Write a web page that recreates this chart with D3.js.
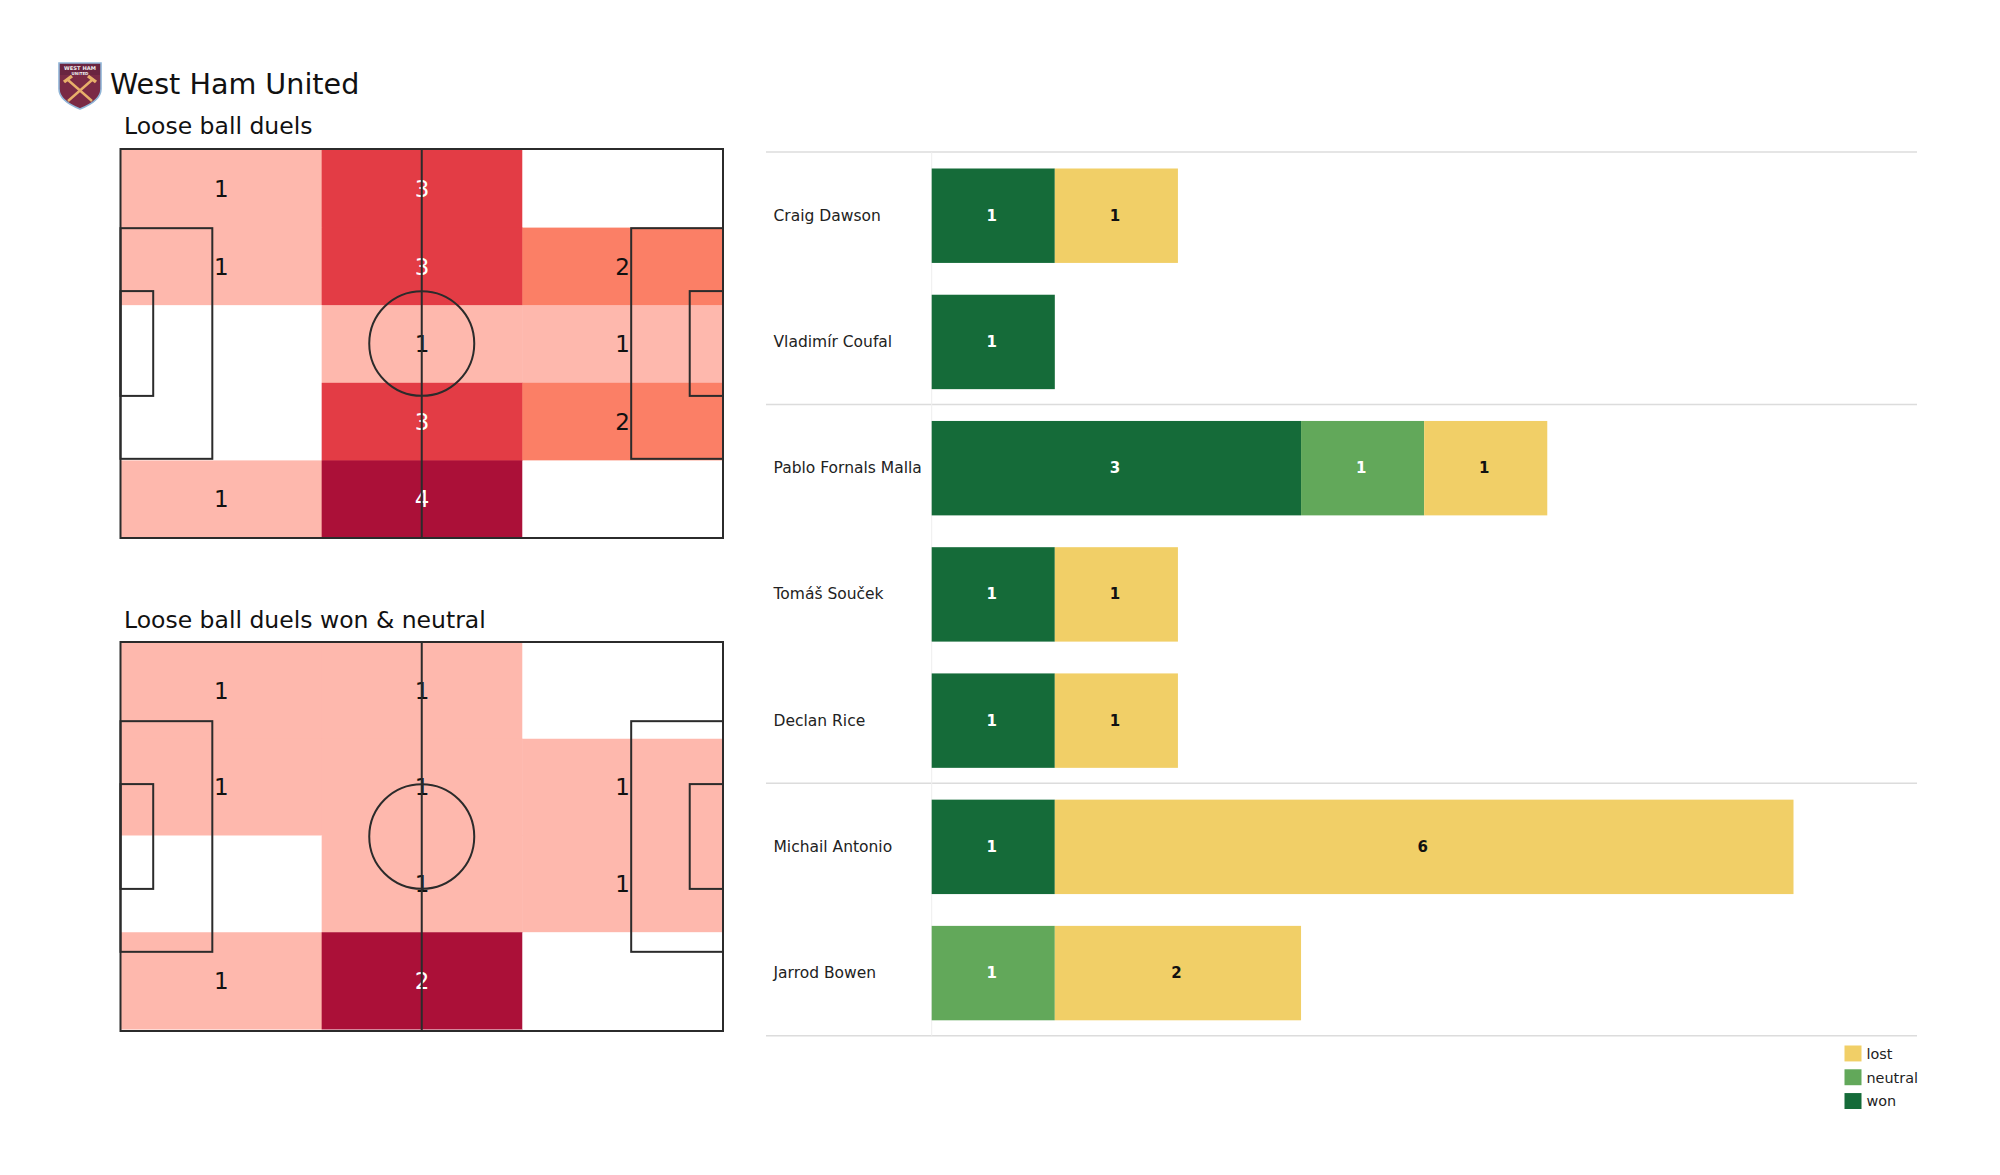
<!DOCTYPE html>
<html><head><meta charset="utf-8">
<script src="https://cdn.jsdelivr.net/npm/d3@7/dist/d3.min.js"></script>
<style>html,body{margin:0;background:#fff}svg{display:block}text{font-family:"DejaVu Sans",sans-serif}</style>
</head><body><svg id="c" width="2000" height="1175"></svg>
<script>
const players=["Craig Dawson","Vladimír Coufal","Pablo Fornals Malla","Tomáš Souček","Declan Rice","Michail Antonio","Jarrod Bowen"];
const won=[1,1,3,1,1,1,0];
const neutral=[0,0,1,0,0,0,1];
const lost=[1,0,1,1,1,6,2];
const groupSizes=[2,3,2];
const outcomes=["won","neutral","lost"];
const outcomeColors=["#156b39","#62a85a","#f1cf67"];
const legendOrder=["lost","neutral","won"];
const duelsGrid=[[1,3,0],[1,3,2],[0,1,1],[0,3,2],[1,4,0]];
const wonGrid=[[1,1,0],[1,1,1],[0,1,1],[1,2,0]];
const duelsPalette=["#ffffff","#feb8ad","#fb7f66","#e33c45","#ab1038"];
const wonPalette=["#ffffff","#feb8ad","#ab1038"];
const svg=d3.select("#c");
const ink="#111";

// header
const logo=svg.append("g").attr("transform","translate(58,61)");
logo.append("path").attr("d","M1 2 H43 V28 C43 38 32 44 22 48 C12 44 1 38 1 28 Z").attr("fill","#7a2a45").attr("stroke","#8fb4d6").attr("stroke-width",1.6);
logo.append("rect").attr("x",2).attr("y",3).attr("width",40).attr("height",11).attr("fill","#6a2440");
logo.append("text").attr("x",22).attr("y",9).attr("text-anchor","middle").attr("font-size",5.2).attr("font-weight","bold").attr("fill","#eee").text("WEST HAM");
logo.append("text").attr("x",22).attr("y",14).attr("text-anchor","middle").attr("font-size",4).attr("font-weight","bold").attr("fill","#eee").text("UNITED");
logo.append("path").attr("d","M10 19 L34 40 M34 19 L10 40").attr("stroke","#e8b06a").attr("stroke-width",2.4).attr("fill","none");
logo.append("path").attr("d","M6 21 L14 15 M38 21 L30 15").attr("stroke","#e8b06a").attr("stroke-width",3.4).attr("fill","none");
svg.append("text").attr("x",110).attr("y",94).attr("font-size",28.6).attr("fill",ink).text("West Ham United");

function pitch(title,titleY,top,bottom,cellTop,cellBottom,grid,palette){
  svg.append("text").attr("x",124).attr("y",titleY).attr("font-size",23.5).attr("fill",ink).text(title);
  const g=svg.append("g");
  const x=d3.scaleLinear().domain([0,105]).range([120.5,723]);
  const y=d3.scaleLinear().domain([0,68]).range([top,bottom]);
  const cx=d3.scaleBand().domain(d3.range(3)).range([121,723]);
  const cy=d3.scaleBand().domain(d3.range(grid.length)).range([cellTop,cellBottom]);
  const color=d3.scaleOrdinal().domain(d3.range(palette.length)).range(palette);
  const cells=grid.flatMap((r,i)=>r.map((v,j)=>({i,j,v})));
  g.selectAll("rect").data(cells).join("rect")
    .attr("x",d=>cx(d.j)).attr("y",d=>cy(d.i)).attr("width",cx.bandwidth()+.5).attr("height",cy.bandwidth()+.5)
    .attr("fill",d=>color(d.v));
  g.selectAll("text").data(cells.filter(d=>d.v>0)).join("text")
    .attr("x",d=>cx(d.j)+cx.bandwidth()/2).attr("y",d=>cy(d.i)+cy.bandwidth()/2)
    .attr("dy","0.36em").attr("text-anchor","middle").attr("font-size",23)
    .attr("fill",d=>d.v>=palette.length-2&&palette.length>3||d.v===palette.length-1?"#fff":ink).text(d=>d.v);
  const L=g.append("g").attr("fill","none").attr("stroke","#2b2b2b").attr("stroke-width",2);
  const box=(x0,x1,y0,y1)=>L.append("rect").attr("x",x(x0)).attr("y",y(y0)).attr("width",x(x1)-x(x0)).attr("height",y(y1)-y(y0));
  box(0,105,0,68);
  box(0,16,13.84,54.16); box(89,105,13.84,54.16);
  box(0,5.7,24.84,43.16); box(99.2,105,24.84,43.16);
  L.append("line").attr("x1",x(52.5)).attr("x2",x(52.5)).attr("y1",y(0)).attr("y2",y(68));
  L.append("ellipse").attr("cx",x(52.5)).attr("cy",y(34)).attr("rx",x(9.15)-x(0)).attr("ry",y(9.15)-y(0));
}
pitch("Loose ball duels",134,149,538,150,538,duelsGrid,duelsPalette);
pitch("Loose ball duels won & neutral",628,642,1031,642,1029,wonGrid,wonPalette);

// bars
const rows=players.map((p,i)=>({player:p,won:won[i],neutral:neutral[i],lost:lost[i]}));
const bx=d3.scaleLinear().domain([0,7]).range([931.7,1793.5]);
const by=d3.scaleBand().domain(players).range([168.5,1020.3]).paddingInner(0.252);
const step=by.step();
const color=d3.scaleOrdinal().domain(outcomes).range(outcomeColors);
const sepY=i=>by(players[i])-(step-by.bandwidth())/2;
let acc=0;const seps=[0];groupSizes.forEach(n=>{acc+=n;seps.push(acc)});
const yAt=k=>k<players.length?sepY(k)-0.5:sepY(players.length-1)+step-0.5;
svg.selectAll("line.sep").data(seps).join("line").attr("class","sep")
  .attr("x1",766).attr("x2",1917).attr("y1",yAt).attr("y2",yAt).attr("stroke","#dcdcdc").attr("stroke-width",1.5);
svg.append("line").attr("x1",931.7).attr("x2",931.7).attr("y1",yAt(0)).attr("y2",yAt(players.length)).attr("stroke","#eeeeee").attr("stroke-width",1);
const stack=d3.stack().keys(outcomes)(rows);
const layer=svg.selectAll("g.layer").data(stack).join("g").attr("class","layer");
const segs=layer.selectAll("g").data(s=>s.map(d=>({k:s.key,a:d[0],b:d[1],p:d.data.player})).filter(d=>d.b>d.a)).join("g");
segs.append("rect").attr("x",d=>bx(d.a)).attr("y",d=>by(d.p)).attr("width",d=>bx(d.b)-bx(d.a)).attr("height",by.bandwidth()).attr("fill",d=>color(d.k));
segs.append("text").attr("x",d=>(bx(d.a)+bx(d.b))/2-1.5).attr("y",d=>by(d.p)+by.bandwidth()/2-0.5).attr("dy","0.36em")
  .attr("text-anchor","middle").attr("font-size",15).attr("font-weight","bold")
  .attr("fill",d=>d.k==="lost"?"#111":"#fff").text(d=>d.b-d.a);
svg.selectAll("text.name").data(players).join("text").attr("class","name")
  .attr("x",773.5).attr("y",d=>by(d)+by.bandwidth()/2-0.5).attr("dy","0.36em").attr("font-size",15.5).attr("fill","#222").text(d=>d);

// legend
const ly=d3.scaleBand().domain(legendOrder).range([1045.5,1109]).paddingInner(0.33);
const lg=svg.selectAll("g.lg").data(legendOrder).join("g").attr("class","lg");
lg.append("rect").attr("x",1844.5).attr("y",d=>ly(d)).attr("width",17).attr("height",ly.bandwidth()).attr("fill",d=>color(d));
lg.append("text").attr("x",1866.5).attr("y",d=>ly(d)+ly.bandwidth()/2+0.5).attr("dy","0.33em").attr("font-size",14.4).attr("fill","#222").text(d=>d);
</script></body></html>
